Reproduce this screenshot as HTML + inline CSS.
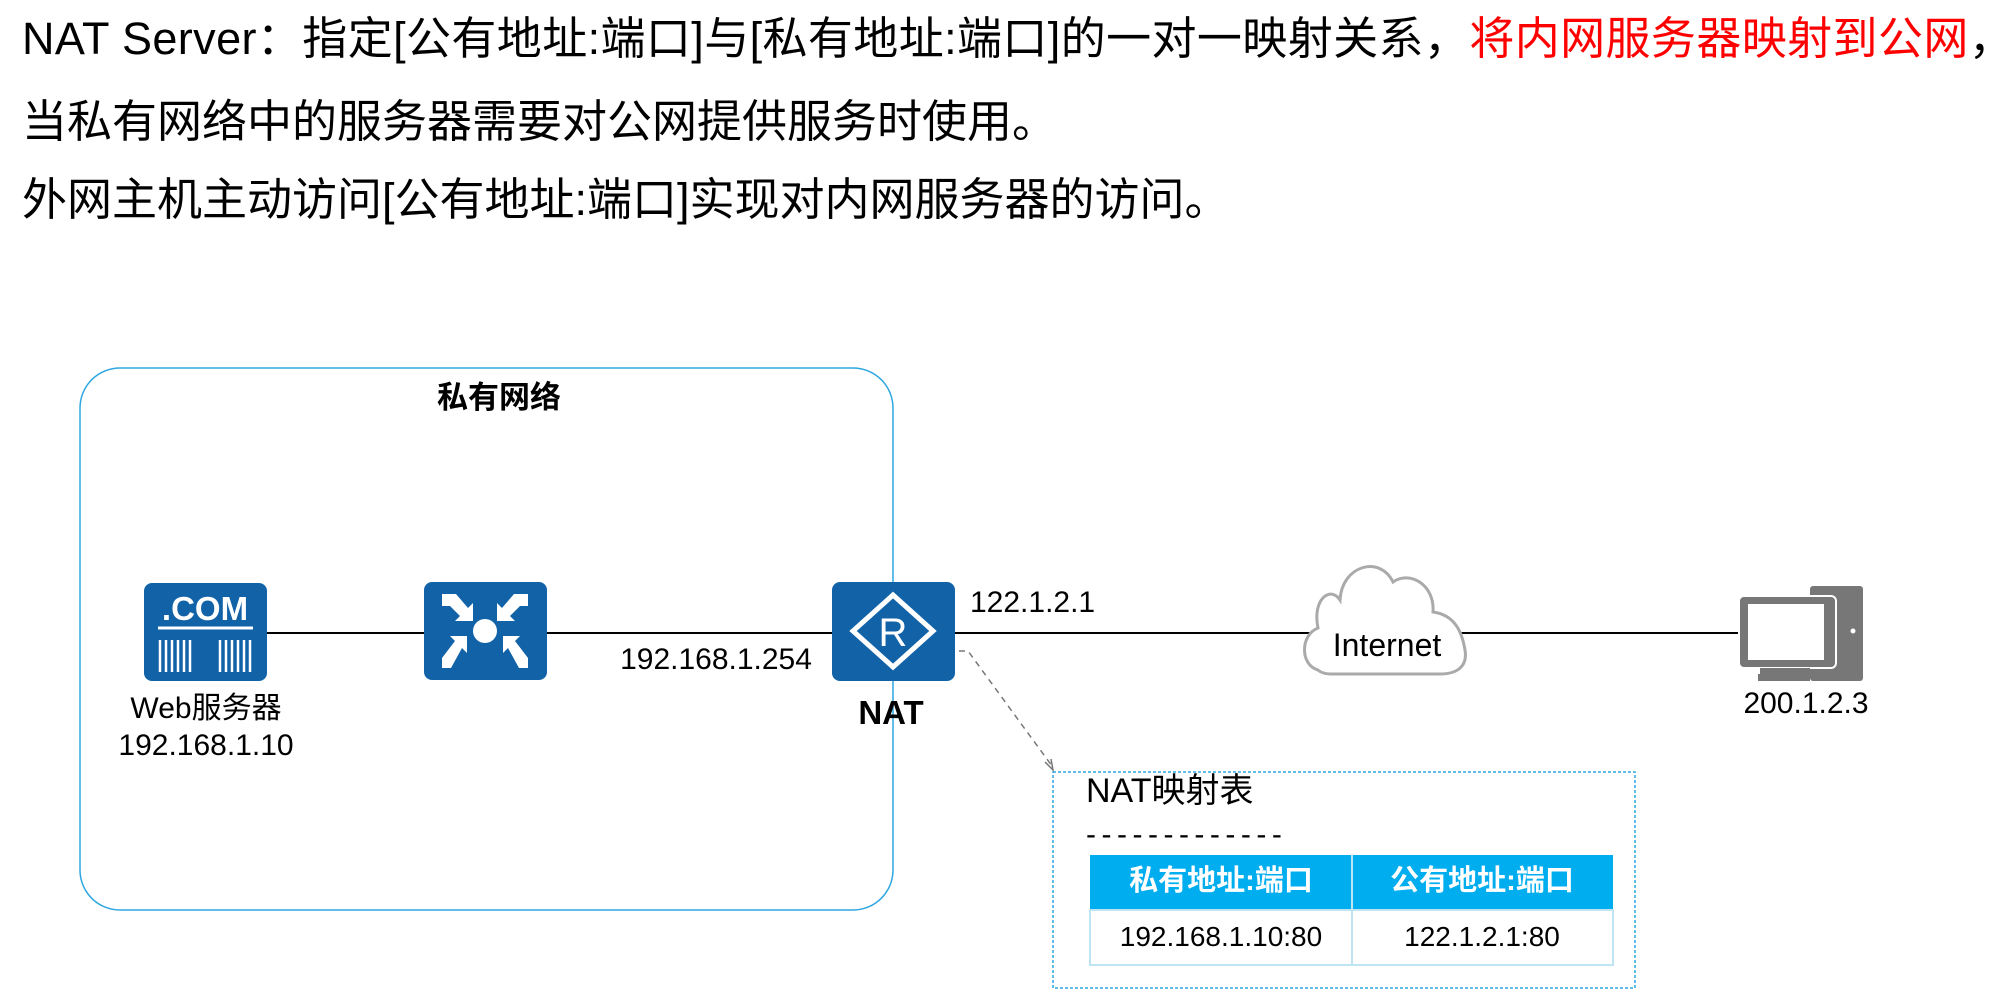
<!DOCTYPE html>
<html><head><meta charset="utf-8">
<style>
body{margin:0;width:2012px;height:992px;background:#fff;position:relative;overflow:hidden;font-family:"Liberation Sans","Noto Sans CJK SC",sans-serif;color:#000}
.t{position:absolute;white-space:nowrap;line-height:1}
.c{transform:translateX(-50%)}
</style></head><body>
<div class="t" style="left:22px;top:16px;font-size:45px;letter-spacing:0.4px">NAT Server：指定[公有地址:端口]与[私有地址:端口]的一对一映射关系，<span style="color:#f00">将内网服务器映射到公网</span>，</div>
<div class="t" style="left:22px;top:99px;font-size:45px">当私有网络中的服务器需要对公网提供服务时使用。</div>
<div class="t" style="left:22px;top:177px;font-size:45px">外网主机主动访问[公有地址:端口]实现对内网服务器的访问。</div>

<svg width="2012" height="992" style="position:absolute;left:0;top:0">
<rect x="80" y="368" width="813" height="542" rx="40" fill="none" stroke="#2ea7e0" stroke-width="1.5"/>
<line x1="267" y1="633" x2="1740" y2="633" stroke="#000" stroke-width="2"/>
<rect x="144" y="583" width="123" height="98" rx="8" fill="#1262a8"/>
<line x1="158" y1="628" x2="253" y2="628" stroke="#fff" stroke-width="3"/>
<g stroke="#fff" stroke-width="2.5">
<line x1="160" y1="640" x2="160" y2="672"/><line x1="166" y1="640" x2="166" y2="672"/><line x1="172" y1="640" x2="172" y2="672"/><line x1="178" y1="640" x2="178" y2="672"/><line x1="184" y1="640" x2="184" y2="672"/><line x1="190" y1="640" x2="190" y2="672"/>
<line x1="220" y1="640" x2="220" y2="672"/><line x1="226" y1="640" x2="226" y2="672"/><line x1="232" y1="640" x2="232" y2="672"/><line x1="238" y1="640" x2="238" y2="672"/><line x1="244" y1="640" x2="244" y2="672"/><line x1="250" y1="640" x2="250" y2="672"/>
</g>
<text x="205" y="620" font-size="33" font-weight="bold" fill="#fff" text-anchor="middle" font-family="Liberation Sans">.COM</text>
<rect x="424" y="582" width="123" height="98" rx="8" fill="#1262a8"/>
<circle cx="485" cy="631" r="12" fill="#fff"/>
<g fill="#fff">
<polygon points="442,594 456,594 468,608 473,603 473,621 455,621 460,616 450,606 442,606"/>
<polygon points="528,594 514,594 502,608 497,603 497,621 515,621 510,616 520,606 528,606"/>
<polygon points="442,668 451,668 462,648 467,653 467,636 450,636 455,641 442,658"/>
<polygon points="528,668 519,668 508,648 503,653 503,636 520,636 515,641 528,658"/>
</g>
<rect x="832" y="582" width="123" height="99" rx="8" fill="#1262a8"/>
<polygon points="893,595 933,631 893,667 853,631" fill="none" stroke="#fff" stroke-width="5"/>
<text x="893" y="646" font-size="40" fill="#fff" text-anchor="middle" font-family="Liberation Sans">R</text>
<path d="M1318,670 C1300,665 1300,635 1318,628 C1312,600 1330,585 1340,600 C1342,565 1380,555 1393,582 C1410,570 1435,585 1433,612 C1455,615 1462,632 1465,650 C1468,668 1455,674 1440,674 L1330,674 C1325,674 1320,672 1318,670 Z" fill="#fff" stroke="#aaa" stroke-width="3"/>
<rect x="1810" y="586" width="53" height="95" rx="3" fill="#777"/>
<rect x="1739" y="596" width="97" height="72" rx="5" fill="#777" stroke="#fff" stroke-width="2"/>
<rect x="1748" y="604" width="76" height="56" fill="#fff"/>
<rect x="1760" y="668" width="50" height="8" fill="#777"/>
<rect x="1758" y="674" width="52" height="7" fill="#777"/>
<circle cx="1853" cy="631" r="2.5" fill="#fff"/>
<polyline points="959,651 968,651 1052,766" fill="none" stroke="#777" stroke-width="1.5" stroke-dasharray="6,5"/>
<polyline points="1045,762 1053,770 1051,759" fill="none" stroke="#777" stroke-width="1.5"/>
<rect x="1053" y="772" width="582" height="216" fill="none" stroke="#2ea7e0" stroke-width="1.5" stroke-dasharray="3,2"/>
<rect x="1090" y="855" width="523" height="55" fill="#00adef"/>
<rect x="1090" y="910" width="523" height="55" fill="#fff" stroke="#bfe4f4" stroke-width="2"/>
<line x1="1352" y1="855" x2="1352" y2="965" stroke="#bfe4f4" stroke-width="2"/>
</svg>

<div class="t" style="left:437px;top:382px;font-size:31px;font-weight:bold">私有网络</div>
<div class="t c" style="left:206px;top:694px;font-size:30px">Web服务器</div>
<div class="t c" style="left:206px;top:731px;font-size:30px">192.168.1.10</div>
<div class="t c" style="left:716px;top:645px;font-size:30px">192.168.1.254</div>
<div class="t c" style="left:891px;top:696px;font-size:33px;font-weight:bold">NAT</div>
<div class="t" style="left:970px;top:588px;font-size:30px">122.1.2.1</div>
<div class="t c" style="left:1387px;top:629px;font-size:32px">Internet</div>
<div class="t c" style="left:1806px;top:689px;font-size:30px">200.1.2.3</div>
<div class="t" style="left:1086px;top:774px;font-size:34px">NAT映射表</div>
<div class="t" style="left:1086px;top:820px;font-size:30px;letter-spacing:5.5px">-------------</div>
<div class="t c" style="left:1221px;top:867px;font-size:29px;font-weight:bold;color:#fff">私有地址:端口</div>
<div class="t c" style="left:1482px;top:867px;font-size:29px;font-weight:bold;color:#fff">公有地址:端口</div>
<div class="t c" style="left:1221px;top:923px;font-size:28px">192.168.1.10:80</div>
<div class="t c" style="left:1482px;top:923px;font-size:28px">122.1.2.1:80</div>
</body></html>
